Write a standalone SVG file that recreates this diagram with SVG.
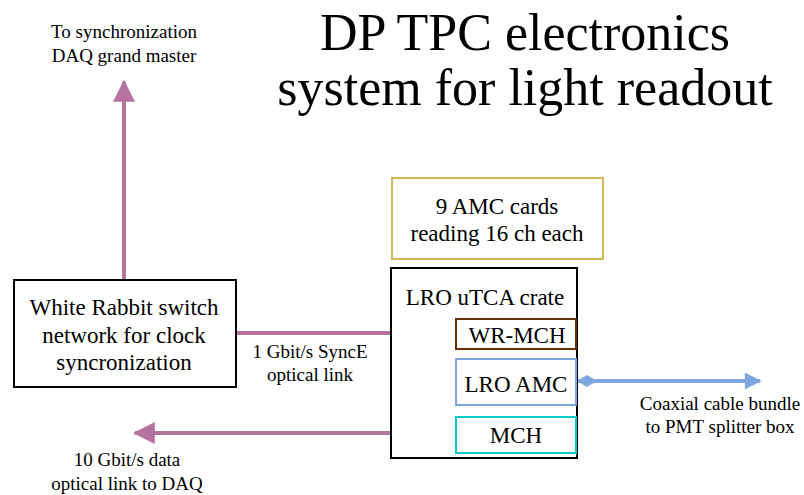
<svg xmlns="http://www.w3.org/2000/svg" width="804" height="495" viewBox="0 0 804 495">
<style>
text{font-family:"Liberation Serif","Times New Roman",Times,Tinos,"Nimbus Roman","FreeSerif","DejaVu Serif",serif;fill:#000;text-anchor:middle}
.t{font-size:52px}
.s{font-size:19px}
.m{font-size:23px}
.box{fill:#fff;stroke-width:2}
.ln{fill:none;stroke-width:4}
</style>
<defs>
<marker id="ah" viewBox="0 0 10 10" refX="9" refY="5" markerWidth="5.5" markerHeight="5.5" orient="auto" markerUnits="strokeWidth">
<path d="M0,0 L10,5 L0,10 Z" fill="#b5739d"/>
</marker>
<marker id="ahb" viewBox="0 0 10 10" refX="9" refY="5" markerWidth="6" markerHeight="4.2" orient="auto" markerUnits="strokeWidth">
<path d="M0,0 L10,5 L0,10 Z" fill="#7ea6e0"/>
</marker>
<marker id="dia" viewBox="0 0 20 12" refX="0" refY="6" markerWidth="5" markerHeight="3" orient="auto" markerUnits="strokeWidth">
<path d="M0,6 L10,0 L20,6 L10,12 Z" fill="#7ea6e0"/>
</marker>
</defs>
<g id="title">
<text class="t" x="525" y="50">DP TPC electronics</text>
<text class="t" x="525" y="105">system for light readout</text>
</g>
<g id="connectors">
<line class="ln" x1="124" y1="280" x2="124" y2="82" stroke="#b5739d" marker-end="url(#ah)"/>
<line class="ln" x1="236" y1="333" x2="456" y2="333" stroke="#b5739d"/>
<line class="ln" x1="456" y1="433" x2="135" y2="433" stroke="#b5739d" marker-end="url(#ah)"/>
<line class="ln" x1="577" y1="381" x2="760" y2="381" stroke="#7ea6e0" marker-start="url(#dia)" marker-end="url(#ahb)"/>
</g>
<g id="labels">
<text class="s" x="124" y="38">To synchronization</text>
<text class="s" x="124" y="62">DAQ grand master</text>
<text class="s" x="310" y="358">1 Gbit/s SyncE</text>
<text class="s" x="310" y="381">optical link</text>
<text class="s" x="127" y="466">10 Gbit/s data</text>
<text class="s" x="127" y="490">optical link to DAQ</text>
<text class="s" x="720" y="410">Coaxial cable bundle</text>
<text class="s" x="720" y="433">to PMT splitter box</text>
</g>
<g id="wr-switch">
<rect class="box" x="14" y="280" width="222" height="107" stroke="#000"/>
<text class="m" x="124" y="315">White Rabbit switch</text>
<text class="m" x="124" y="343">network for clock</text>
<text class="m" x="124" y="370">syncronization</text>
</g>
<g id="amc-cards">
<rect class="box" x="392" y="178" width="211" height="81" stroke="#d6b656"/>
<text class="m" x="497" y="214">9 AMC cards</text>
<text class="m" x="497" y="241">reading 16 ch each</text>
</g>
<g id="crate">
<rect class="box" x="391" y="268" width="186" height="190" stroke="#000"/>
<text class="m" x="485" y="305">LRO uTCA crate</text>
</g>
<g id="wr-mch">
<rect class="box" x="456" y="319" width="120" height="30" stroke="#663300"/>
<text class="m" x="517" y="343">WR-MCH</text>
</g>
<g id="lro-amc">
<rect class="box" x="456" y="359" width="120" height="46" stroke="#7ea6e0"/>
<text class="m" x="516" y="392">LRO AMC</text>
</g>
<g id="mch">
<rect class="box" x="456" y="417" width="120" height="36" stroke="#00cccc"/>
<text class="m" x="516" y="443">MCH</text>
</g>
</svg>
